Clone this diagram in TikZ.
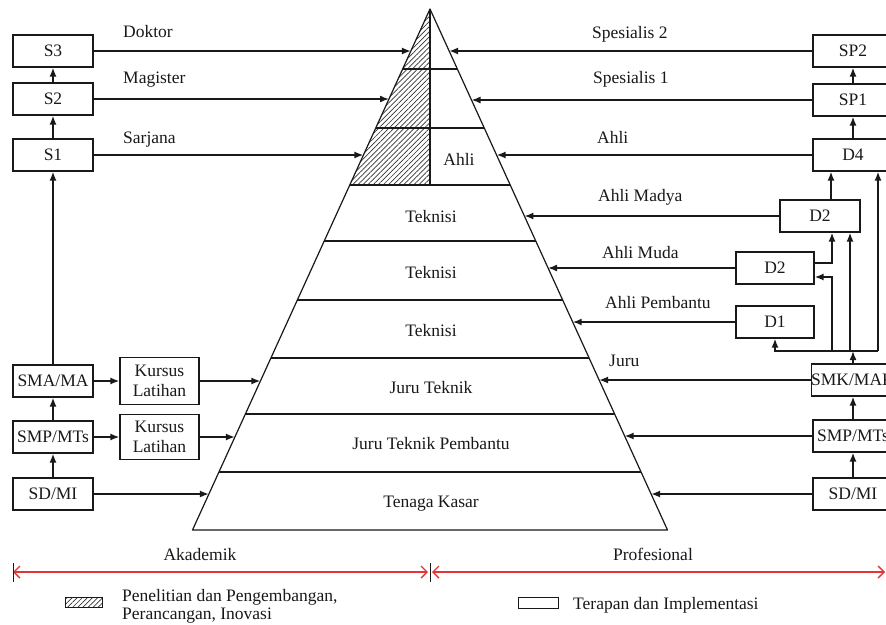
\documentclass[tikz,border=0pt]{standalone}
\usepackage{fontspec}
\setmainfont{Liberation Serif}
\usetikzlibrary{arrows.meta,patterns.meta,calc}
\definecolor{redl}{RGB}{228,52,52}
\definecolor{ink}{RGB}{25,25,25}
\begin{document}
\begin{tikzpicture}[x=1pt,y=-1pt,
  every node/.style={font=\fontsize{17.5}{20}\selectfont, inner sep=0pt, text=ink},
  bx/.style={draw=ink, line width=1.2pt, minimum width=80pt, minimum height=32pt},
  arr/.style={draw=ink, line width=1.6pt, -{Latex[length=9pt,width=7pt]}},
  ln/.style={draw=ink, line width=1.2pt},
  lab/.style={anchor=base west},
  lvl/.style={anchor=base},
  hatch/.style={pattern={Lines[angle=45,distance=3.6pt,line width=0.7pt]}, pattern color=black!80},
  redarr/.style={draw=redl, line width=1.4pt, {Straight Barb[length=6pt,width=12pt]}-{Straight Barb[length=6pt,width=12pt]}}
]
\clip (0,0) rectangle (886,624);
\fill[white] (0,0) rectangle (886,624);

% pyramid
\coordinate (apex) at (430,9);
\coordinate (bl) at (192.5,530);
\coordinate (br) at (667.5,530);
\fill[hatch] (apex) -- (349.8,185) -- (430,185) -- cycle;
\draw[ln] (402.6,69) -- (457.4,69);
\draw[ln] (375.8,128) -- (484.2,128);
\draw[ln] (349.8,185) -- (510.2,185);
\draw[ln] (324.2,241) -- (535.8,241);
\draw[ln] (297.4,300) -- (562.6,300);
\draw[ln] (270.9,358) -- (589.1,358);
\draw[ln] (245.4,414) -- (614.6,414);
\draw[ln] (218.9,472) -- (641.1,472);
\draw[ln] (apex) -- (430,185);
\draw[ln, line join=round] (bl) -- (apex) -- (br) -- cycle;

% level texts
\node[lvl] (tAhli) at (459,165) {Ahli};
\node[lvl] (tT1) at (431,222) {Teknisi};
\node[lvl] (tT2) at (431,278) {Teknisi};
\node[lvl] (tT3) at (431,336) {Teknisi};
\node[lvl] (tJT) at (431,393) {Juru Teknik};
\node[lvl] (tJTP) at (431,449) {Juru Teknik Pembantu};
\node[lvl] (tTK) at (431,507) {Tenaga Kasar};

% left boxes
\node[bx] (S3) at (53,51) {S3};
\node[bx] (S2) at (53,99) {S2};
\node[bx] (S1) at (53,155) {S1};
\node[bx] (SMAL) at (53,381) {SMA/MA};
\node[bx] (SMPL) at (53,437) {SMP/MTs};
\node[bx] (SDL) at (53,494) {SD/MI};
\node[bx, minimum width=79pt, minimum height=47pt, align=center] (K1) at (159.5,381) {Kursus\\Latihan};
\node[bx, minimum width=79pt, minimum height=45pt, align=center] (K2) at (159.5,437) {Kursus\\Latihan};

% right boxes
\node[bx] (SP2) at (853,51) {SP2};
\node[bx] (SP1) at (853,100) {SP1};
\node[bx] (D4) at (853,155) {D4};
\node[bx] (D2a) at (820,216) {D2};
\node[bx, minimum width=78pt] (D2b) at (775,268) {D2};
\node[bx, minimum width=78pt] (D1) at (775,322) {D1};
\node[bx] (SMKR) at (853,380) {SMK/MAK};
\node[bx] (SMPR) at (853,436) {SMP/MTs};
\node[bx] (SDR) at (853,494) {SD/MI};

% edge points on the pyramid
\coordinate (eS3) at (410.9,51);
\coordinate (eS2) at (389.0,99);
\coordinate (eS1) at (363.4,155);
\coordinate (eK1) at (260.4,381);
\coordinate (eK2) at (234.9,437);
\coordinate (eSD) at (208.9,494);
\coordinate (eSP2) at (449.1,51);
\coordinate (eSP1) at (471.5,100);
\coordinate (eD4) at (496.6,155);
\coordinate (eD2a) at (524.4,216);
\coordinate (eD2b) at (548.0,268);
\coordinate (eD1) at (572.7,322);
\coordinate (eSMK) at (599.1,380);
\coordinate (eSMP) at (624.6,436);
\coordinate (eSDR) at (651.1,494);

% left arrows
\draw[arr] (S3.east) -- (eS3);
\draw[arr] (S2.east) -- (eS2);
\draw[arr] (S1.east) -- (eS1);
\draw[arr] (SMAL.east) -- (K1.west);
\draw[arr] (K1.east) -- (eK1);
\draw[arr] (SMPL.east) -- (K2.west);
\draw[arr] (K2.east) -- (eK2);
\draw[arr] (SDL.east) -- (eSD);
\draw[arr] (S1.north) -- (S2.south);
\draw[arr] (S2.north) -- (S3.south);
\draw[arr] (SDL.north) -- (SMPL.south);
\draw[arr] (SMPL.north) -- (SMAL.south);
\draw[arr] (SMAL.north) -- (S1.south);

% right arrows
\draw[arr] (SP2.west) -- (eSP2);
\draw[arr] (SP1.west) -- (eSP1);
\draw[arr] (D4.west) -- (eD4);
\draw[arr] (D2a.west) -- (eD2a);
\draw[arr] (D2b.west) -- (eD2b);
\draw[arr] (D1.west) -- (eD1);
\draw[arr] (SMKR.west) -- (eSMK);
\draw[arr] (SMPR.west) -- (eSMP);
\draw[arr] (SDR.west) -- (eSDR);
\draw[arr] (D4.north) -- (SP1.south);
\draw[arr] (SP1.north) -- (SP2.south);
\draw[arr] (SDR.north) -- (SMPR.south);
\draw[arr] (SMPR.north) -- (SMKR.south);

% bus from SMK/MAK
\coordinate (bD1) at (775,351);
\coordinate (bA) at (832,351);
\coordinate (bB) at (850,351);
\coordinate (bC) at (878,351);
\coordinate (bS) at (853,351);
\coordinate (kA) at (832,277);
\coordinate (kB) at (832,263);
\coordinate (kC) at (831,200);
\draw[arr] (bC) -- (bD1) -- (D1.south);
\draw[arr] (bA) -- (kA) -- (kA -| D2b.east);
\draw[arr] (kB -| D2b.east) -- (kB) -- (kB |- D2a.south);
\draw[arr] (bB) -- (bB |- D2a.south);
\draw[arr] (bC) -- (bC |- D4.south);
\draw[arr] (kC |- D2a.north) -- (kC |- D4.south);
\draw[arr] (SMKR.north) -- (bS);

% labels
\node[lab] (lDok) at (123,37) {Doktor};
\node[lab] (lMag) at (123,83) {Magister};
\node[lab] (lSar) at (123,143) {Sarjana};
\node[lab] (lSp2) at (592,38) {Spesialis 2};
\node[lab] (lSp1) at (593,83) {Spesialis 1};
\node[lab] (lAhli) at (597,143) {Ahli};
\node[lab] (lMadya) at (598,201) {Ahli Madya};
\node[lab] (lMuda) at (602,258) {Ahli Muda};
\node[lab] (lPemb) at (605,308) {Ahli Pembantu};
\node[lab] (lJuru) at (609,366) {Juru};

% bottom scale
\node[lvl] (lAk) at (200,560) {Akademik};
\node[lvl] (lPr) at (653,560) {Profesional};
\coordinate (rL) at (13,572);
\coordinate (rM1) at (428,572);
\coordinate (rM2) at (432,572);
\coordinate (rR) at (885,572);
\draw[redarr] (rL) -- (rM1);
\draw[redarr] (rM2) -- (rR);
\draw[ink, line width=0.9pt] (13,563) -- (13,582);
\draw[ink, line width=0.9pt] (430,563) -- (430,582);

% legend
\node[draw=ink, line width=0.9pt, hatch, minimum width=37pt, minimum height=10pt] (legH) at (84,602) {};
\node[lab] (legHt1) at (122,601) {Penelitian dan Pengembangan,};
\node[lab] (legHt2) at (122,619) {Perancangan, Inovasi};
\node[draw=ink, line width=1pt, minimum width=40pt, minimum height=11pt] (legW) at (538,602.5) {};
\node[lab] (legWt) at (573,609) {Terapan dan Implementasi};
\end{tikzpicture}
\end{document}
